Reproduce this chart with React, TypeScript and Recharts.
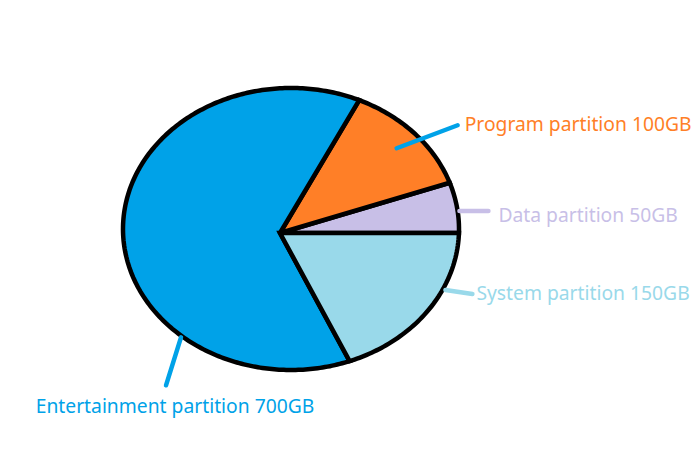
import React from 'react';
import { PieChart, Pie, Cell } from 'recharts';

const partitions = ['Data partition', 'Program partition', 'Entertainment partition', 'System partition'];
const sizesGB = [50, 100, 700, 150];
const colors = ['#c8bfe7', '#ff7f27', '#00a2e8', '#99d9ea'];
const lineColors = ['#c8bfe7', '#00a2e8', '#00a2e8', '#99d9ea'];

const data = partitions.map((name, i) => ({ name, value: sizesGB[i] }));

// the pie is drawn as an oval whose centre sits a little right of the apex
const RX = 168;
const RY = 141;
const OFF_X = 11;
const OFF_Y = -4;

// the original is hand drawn, its cuts drift a few degrees from the true angles
const WARP_IN = [0, 18, 54, 306, 360];
const WARP_OUT = [0, 16.5, 59.2, 298.5, 360];

function warp(deg: number) {
  for (let i = 1; i < WARP_IN.length; i++) {
    if (deg <= WARP_IN[i]) {
      const t = (deg - WARP_IN[i - 1]) / (WARP_IN[i] - WARP_IN[i - 1]);
      return WARP_OUT[i - 1] + t * (WARP_OUT[i] - WARP_OUT[i - 1]);
    }
  }
  return deg;
}

function edgePoint(cx: number, cy: number, deg: number, frac = 1) {
  const t = (deg * Math.PI) / 180;
  const dx = Math.cos(t);
  const dy = -Math.sin(t);
  const px = -OFF_X;
  const py = -OFF_Y;
  const a = (dx * dx) / (RX * RX) + (dy * dy) / (RY * RY);
  const b = 2 * ((px * dx) / (RX * RX) + (py * dy) / (RY * RY));
  const c = (px * px) / (RX * RX) + (py * py) / (RY * RY) - 1;
  const s = ((-b + Math.sqrt(b * b - 4 * a * c)) / (2 * a)) * frac;
  return [cx + s * dx, cy + s * dy];
}

function OvalSector(props: any) {
  const { cx, cy, startAngle, endAngle, fill } = props;
  const lo = warp(Math.min(startAngle, endAngle));
  const hi = warp(Math.max(startAngle, endAngle));
  const steps = Math.max(2, Math.ceil(hi - lo));
  let d = `M${cx},${cy}`;
  for (let i = 0; i <= steps; i++) {
    const [x, y] = edgePoint(cx, cy, lo + ((hi - lo) * i) / steps);
    d += ` L${x.toFixed(2)},${y.toFixed(2)}`;
  }
  d += ' Z';
  return <path d={d} fill={fill} stroke="#000" strokeWidth={4.5} />;
}

// hand placed leader lines: angle from apex, how far out, line vector, text offset
const labelLayout = [
  { angle: 7, frac: 1.01, dx: 29, dy: 0, tx: 10, ty: 4, anchor: 'start' },
  { angle: 36, frac: 0.86, dx: 61, dy: -23, tx: 7, ty: -2, anchor: 'start' },
  { angle: 226.5, frac: 1.01, dx: -15, dy: 48, tx: 9, ty: 20, anchor: 'middle' },
  { angle: 341, frac: 1.015, dx: 27, dy: 4, tx: 4, ty: -1, anchor: 'start' },
];

function renderLabel(props: any) {
  const { cx, cy, index } = props;
  const l = labelLayout[index];
  const [x1, y1] = edgePoint(cx, cy, l.angle, l.frac);
  const x2 = x1 + l.dx;
  const y2 = y1 + l.dy;
  return (
    <g key={`lbl-${index}`}>
      <line x1={x1} y1={y1} x2={x2} y2={y2} stroke={lineColors[index]} strokeWidth={4.5} strokeLinecap="round" />
      <text
        x={x2 + l.tx}
        y={y2 + l.ty}
        fill={colors[index]}
        textAnchor={l.anchor as any}
        dominantBaseline="central"
        fontSize={19.3}
        fontFamily="'Microsoft YaHei', 'Noto Sans', sans-serif"
      >
        {`${partitions[index]} ${sizesGB[index]}GB`}
      </text>
    </g>
  );
}

export default function App() {
  return (
    <div style={{ position: 'absolute', left: 0, top: 0, background: '#fff' }}>
      <PieChart width={693} height={450} margin={{ top: 0, right: 0, bottom: 0, left: 0 }}>
        <Pie
          data={data}
          dataKey="value"
          nameKey="name"
          cx={280}
          cy={233}
          outerRadius={150}
          startAngle={0}
          endAngle={360}
          stroke="#000"
          shape={OvalSector}
          inactiveShape={OvalSector}
          activeShape={OvalSector}
          label={renderLabel}
          labelLine={false}
          isAnimationActive={false}
        >
          {data.map((d, i) => (
            <Cell key={d.name} fill={colors[i]} />
          ))}
        </Pie>
      </PieChart>
    </div>
  );
}
